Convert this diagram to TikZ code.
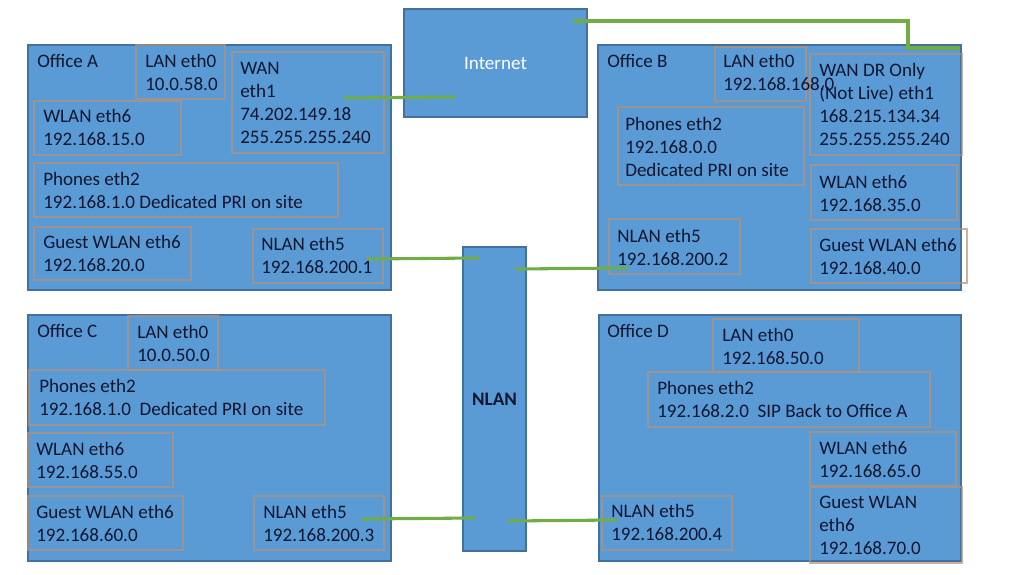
\documentclass[tikz,border=0pt]{standalone}
\usepackage{fontspec}
\setmainfont{Carlito}
\usetikzlibrary{fit}
\definecolor{officeblue}{HTML}{5B9BD5}
\definecolor{officeedge}{HTML}{41719C}
\definecolor{wirecol}{HTML}{70AD47}
\definecolor{iedge}{RGB}{185,145,120}
\definecolor{ink}{RGB}{16,22,48}
\begin{document}
\begin{tikzpicture}[x=0.75pt,y=-0.75pt,
 office/.style={draw=officeedge, fill=officeblue, line width=0.9pt, inner sep=0pt},
 ibox/.style={draw=iedge, draw opacity=0.7, line width=1.5pt, inner sep=0pt},
 lbl/.style={anchor=base west, inner sep=0pt, align=left, text=ink, font=\fontsize{14.3}{17.25}\selectfont},
 link/.style={draw=wirecol, line width=2.3pt}]
\useasboundingbox[fill=white] (0,0) rectangle (1023,574);

% ---------- big blocks ----------
\node[office, fit={(28,45) (391,290)}] (offA) {};
\node[office, fit={(598,45) (961,290)}] (offB) {};
\node[office, fit={(28,315) (391,561)}] (offC) {};
\node[office, fit={(599,315) (961,561)}] (offD) {};
\node[office, fit={(404,9) (587,117)}] (inet) {};
\node[office, fit={(463,247) (526,551)}] (nlan) {};

% ---------- inner boxes: Office A ----------
\node[ibox, fit={(136,45) (225,99)}] (lanA) {};
\node[ibox, fit={(232,52) (384,153)}] (wanA) {};
\node[ibox, fit={(34,101) (181,155)}] (wlanA) {};
\node[ibox, fit={(34,163) (338,217)}] (phA) {};
\node[ibox, fit={(34,227) (191,280)}] (gwA) {};
\node[ibox, fit={(253,229) (383,283)}] (nlA) {};

% ---------- Office B ----------
\node[ibox, fit={(715,47) (806,101)}] (lanB) {};
\node[ibox, fit={(810,54) (962,155)}] (wanB) {};
\node[ibox, fit={(618,107) (804,185)}] (phB) {};
\node[ibox, fit={(811,165) (957,220)}] (wlanB) {};
\node[ibox, fit={(811,229) (967,283)}] (gwB) {};
\node[ibox, fit={(609,219) (740,274)}] (nlB) {};

% ---------- Office C ----------
\node[ibox, fit={(128,316) (218,370)}] (lanC) {};
\node[ibox, fit={(29,370) (325,425)}] (phC) {};
\node[ibox, fit={(28,433) (173,487)}] (wlanC) {};
\node[ibox, fit={(28,496) (183,550)}] (gwC) {};
\node[ibox, fit={(254,496) (384,550)}] (nlC) {};

% ---------- Office D ----------
\node[ibox, fit={(713,319) (859,372)}] (lanD) {};
\node[ibox, fit={(648,372) (930,427)}] (phD) {};
\node[ibox, fit={(810,432) (956,486)}] (wlanD) {};
\node[ibox, fit={(810,487) (962,563)}] (gwD) {};
\node[ibox, fit={(602,496) (732,550)}] (nlD) {};

% ---------- texts (anchored at the baseline of the last line) ----------
\node[lbl] (tA) at (37,68) {Office A};
\node[lbl] (tlanA) at (145,91) {LAN eth0\\10.0.58.0};
\node[lbl] (twanA) at (240,144) {WAN\\eth1\\74.202.149.18\\255.255.255.240};
\node[lbl] (twlanA) at (43,146) {WLAN eth6\\192.168.15.0};
\node[lbl] (tphA) at (43,208) {Phones eth2\\192.168.1.0 Dedicated PRI on site};
\node[lbl] (tgwA) at (43,271) {Guest WLAN eth6\\192.168.20.0};
\node[lbl] (tnlA) at (261,273) {NLAN eth5\\192.168.200.1};

\node[lbl] (tB) at (607,68) {Office B};
\node[lbl] (tlanB) at (723,91) {LAN eth0\\192.168.168.0};
\node[lbl] (twanB) at (819,146) {WAN DR Only\\(Not Live) eth1\\168.215.134.34\\255.255.255.240};
\node[lbl] (tphB) at (625,176) {Phones eth2\\192.168.0.0\\Dedicated PRI on site};
\node[lbl] (twlanB) at (819,211) {WLAN eth6\\192.168.35.0};
\node[lbl] (tgwB) at (819,274) {Guest WLAN eth6\\192.168.40.0};
\node[lbl] (tnlB) at (617,265) {NLAN eth5\\192.168.200.2};

\node[lbl] (tC) at (37,337) {Office C};
\node[lbl] (tlanC) at (137,361) {LAN eth0\\10.0.50.0};
\node[lbl] (tphC) at (39,415) {Phones eth2\\192.168.1.0\ \ Dedicated PRI on site};
\node[lbl] (twlanC) at (36,478) {WLAN eth6\\192.168.55.0};
\node[lbl] (tgwC) at (36,541) {Guest WLAN eth6\\192.168.60.0};
\node[lbl] (tnlC) at (263,541) {NLAN eth5\\192.168.200.3};

\node[lbl] (tD) at (607,337) {Office D};
\node[lbl] (tlanD) at (722,364) {LAN eth0\\192.168.50.0};
\node[lbl] (tphD) at (657,417) {Phones eth2\\192.168.2.0\ \ SIP Back to Office A};
\node[lbl] (twlanD) at (819,477) {WLAN eth6\\192.168.65.0};
\node[lbl] (tgwD) at (819,554) {Guest WLAN\\eth6\\192.168.70.0};
\node[lbl] (tnlD) at (611,540) {NLAN eth5\\192.168.200.4};

\node[text=white, font=\fontsize{14.3}{17.25}\selectfont, inner sep=0pt] (tinet) at (495.5,63) {Internet};
\node[text=ink, font=\fontsize{14.3}{17.25}\selectfont\bfseries, inner sep=0pt] (tnlan) at (494.5,399) {NLAN};

% ---------- connectors ----------
\coordinate (wA1) at (343,98);
\coordinate (wA2) at (456,97);
\coordinate (wB1) at (960,48);
\coordinate (wB2) at (908,48);
\coordinate (wB3) at (908,21);
\coordinate (wB4) at (574,21);
\coordinate (nA1) at (367,259);
\coordinate (nA2) at (479,258);
\coordinate (nB1) at (516,269);
\coordinate (nB2) at (628,268);
\coordinate (nC1) at (362,519);
\coordinate (nC2) at (475,518);
\coordinate (nD1) at (507,521);
\coordinate (nD2) at (618,520);

\draw[link] (wA1) -- (wA2);
\draw[link] (wB1) -- (wB2) -- (wB3) -- (wB4);
\draw[link] (nA1) -- (nA2);
\draw[link] (nB1) -- (nB2);
\draw[link] (nC1) -- (nC2);
\draw[link] (nD1) -- (nD2);
\end{tikzpicture}
\end{document}
